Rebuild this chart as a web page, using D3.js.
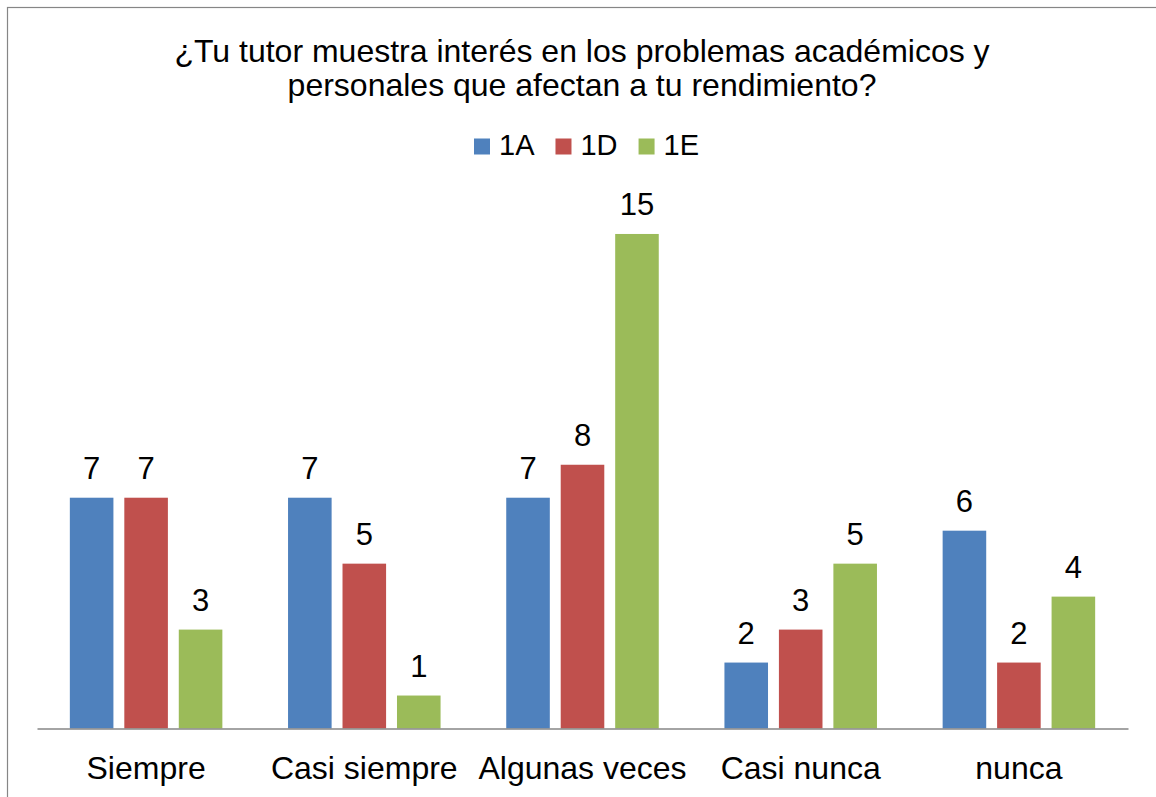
<!DOCTYPE html>
<html>
<head>
<meta charset="utf-8">
<script src="https://cdn.jsdelivr.net/npm/d3@7"></script>
<style>
  body { margin: 0; background: #fff; }
  text { font-family: "Liberation Sans", Arial, sans-serif; fill: #000; }
</style>
</head>
<body>
<div id="chart"></div>
<script>
// chart data
var categories = ["Siempre", "Casi siempre", "Algunas veces", "Casi nunca", "nunca"]
var seriesNames = ["1A", "1D", "1E"]
var values1A = [7, 7, 7, 2, 6]
var values1D = [7, 5, 8, 3, 2]
var values1E = [3, 1, 15, 5, 4]
var titleLines = ["¿Tu tutor muestra interés en los problemas académicos y",
                  "personales que afectan a tu rendimiento?"]

var colors = ["#4f81bd", "#c0504d", "#9bbb59"]

var width = 1156, height = 797
var plot = {left: 37, right: 1128, top: 201, bottom: 728.5}

var svg = d3.select("#chart").append("svg")
  .attr("width", width)
  .attr("height", height)

// outer frame (runs off right/bottom edge like the original)
svg.append("rect")
  .attr("x", 7.5).attr("y", 7.5)
  .attr("width", 1300).attr("height", 1000)
  .attr("fill", "none")
  .attr("stroke", "#868686")
  .attr("stroke-width", 1.2)

// title
svg.append("g").selectAll("text")
  .data(titleLines)
  .join("text")
    .attr("x", 582)
    .attr("y", (d, i) => 62 + i * 34)
    .attr("text-anchor", "middle")
    .style("font-size", "32px")
    .text(d => d)

var series = seriesNames.map((name, i) => ({
  name: name,
  color: colors[i],
  values: [values1A, values1D, values1E][i]
}))

var x0 = d3.scaleBand()
  .domain(categories)
  .range([plot.left, plot.right])
  .paddingInner(0.301)
  .paddingOuter(0.1505)

var x1 = d3.scaleBand()
  .domain(seriesNames)
  .range([0, x0.bandwidth()])
  .paddingInner(0.2)

var y = d3.scaleLinear()
  .domain([0, 16])
  .range([plot.bottom, plot.top])

var groups = svg.append("g").selectAll("g")
  .data(series)
  .join("g")
    .attr("fill", d => d.color)

groups.selectAll("rect")
  .data(s => s.values.map((v, i) => ({cat: categories[i], v: v, s: s.name})))
  .join("rect")
    .attr("x", d => x0(d.cat) + x1(d.s))
    .attr("y", d => y(d.v))
    .attr("width", x1.bandwidth())
    .attr("height", d => y(0) - y(d.v))

// value labels
groups.selectAll("text")
  .data(s => s.values.map((v, i) => ({cat: categories[i], v: v, s: s.name})))
  .join("text")
    .attr("x", d => x0(d.cat) + x1(d.s) + x1.bandwidth() / 2)
    .attr("y", d => y(d.v) - 19)
    .attr("text-anchor", "middle")
    .style("font-size", "31px")
    .style("fill", "#000")
    .text(d => d.v)

// x axis
var xAxis = svg.append("g")
  .attr("transform", `translate(0,${plot.bottom})`)
  .call(d3.axisBottom(x0).tickSize(0).tickPadding(0))
xAxis.select(".domain").attr("stroke", "#868686").attr("stroke-width", 1.3)
xAxis.selectAll(".tick text")
  .attr("dy", null)
  .attr("y", 50)
  .style("font-size", "32px")
  .style("font-family", '"Liberation Sans", Arial, sans-serif')
  .attr("fill", "#000")

// legend
var legend = svg.append("g")
var lx = 474
series.forEach(s => {
  legend.append("rect")
    .attr("x", lx).attr("y", 138.5)
    .attr("width", 16).attr("height", 16)
    .attr("fill", s.color)
  var t = legend.append("text")
    .attr("x", lx + 25).attr("y", 155)
    .style("font-size", "29px")
    .text(s.name)
  lx += 25 + t.node().getComputedTextLength() + 21
})
</script>
</body>
</html>
